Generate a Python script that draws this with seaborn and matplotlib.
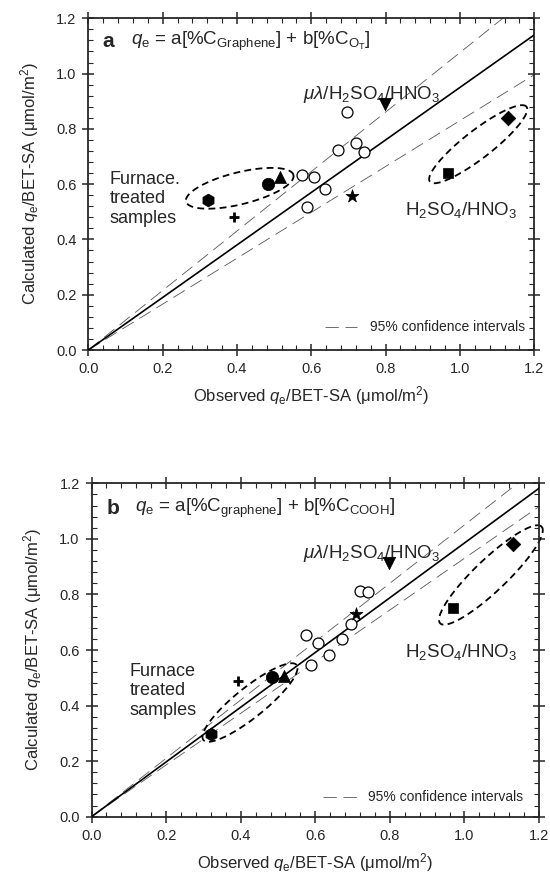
import numpy as np
import pandas as pd
import matplotlib
matplotlib.use("Agg")
import matplotlib.pyplot as plt
from matplotlib.ticker import MultipleLocator, FormatStrFormatter
import seaborn as sns

# ---------------- data ----------------
obs_open = [0.695, 0.673, 0.720, 0.741, 0.574, 0.608, 0.638, 0.588]
calc_a_open = [0.862, 0.724, 0.748, 0.715, 0.633, 0.627, 0.581, 0.516]
calc_b_open = [0.694, 0.640, 0.814, 0.808, 0.654, 0.624, 0.582, 0.546]

special_markers = ["h", "+", "o", "^", "*", "v", "s", "D"]
obs_special = [0.321, 0.393, 0.483, 0.516, 0.709, 0.799, 0.969, 1.130]
calc_a_special = [0.543, 0.480, 0.601, 0.627, 0.557, 0.889, 0.641, 0.838]
calc_b_special = [0.298, 0.490, 0.504, 0.506, 0.730, 0.912, 0.752, 0.982]

fit_slopes = {"a": 0.95, "b": 0.985}
ci_upper = {"a": 1.076, "b": 1.05}
ci_lower = {"a": 0.83, "b": 0.93}

tick_values = [0.0, 0.2, 0.4, 0.6, 0.8, 1.0, 1.2]

# ---------------- style ----------------
sns.set_style("ticks")
plt.rcParams["font.family"] = ["Liberation Sans", "DejaVu Sans"]
plt.rcParams["mathtext.fontset"] = "custom"
plt.rcParams["mathtext.rm"] = "Liberation Sans"
plt.rcParams["mathtext.it"] = "Liberation Sans:italic"
plt.rcParams["mathtext.bf"] = "Liberation Sans:bold"

fig = plt.figure(figsize=(5.5, 8.89), dpi=100)
ax_a = fig.add_axes([88.3 / 550, 1 - 350 / 889, 446 / 550, 331.7 / 889])
ax_b = fig.add_axes([91.5 / 550, 1 - 816.7 / 889, 447.5 / 550, 333.4 / 889])


def dashed_ellipse(ax, p1, p2, half_minor_px, clip=True):
    T = ax.transData
    a = T.transform(p1)
    b = T.transform(p2)
    c = (a + b) / 2
    d = (b - a) / 2
    L = np.hypot(*d)
    u = d / L
    v = np.array([-u[1], u[0]])
    t = np.linspace(0, 2 * np.pi, 300)
    pts = c + np.outer(np.cos(t), d) + np.outer(np.sin(t), v * half_minor_px)
    data = T.inverted().transform(pts)
    ax.plot(data[:, 0], data[:, 1], color="black", lw=1.3,
            linestyle=(0, (3.8, 2.4)), clip_on=clip, zorder=2)


XLABEL = r"Observed $q_\mathrm{e}$/BET-SA (μmol/m$^2$)"
YLABEL = r"Calculated $q_\mathrm{e}$/BET-SA (μmol/m$^2$)"


def setup(ax):
    ax.set_xlim(0, 1.2)
    ax.set_ylim(0, 1.2)
    ax.set_xticks(tick_values)
    ax.set_yticks(tick_values)
    ax.xaxis.set_major_formatter(FormatStrFormatter("%.1f"))
    ax.yaxis.set_major_formatter(FormatStrFormatter("%.1f"))
    ax.xaxis.set_minor_locator(MultipleLocator(0.04))
    ax.yaxis.set_minor_locator(MultipleLocator(0.04))
    ax.tick_params(which="major", direction="inout", length=9, width=1.1,
                   top=True, right=True, labelsize=10.5, pad=4)
    ax.tick_params(which="minor", direction="in", length=3.5, width=0.8,
                   top=True, right=True)
    for s in ax.spines.values():
        s.set_linewidth(1.3)
        s.set_visible(True)


def draw(ax, key, calc_open, calc_special):
    setup(ax)
    xs = np.array([0.0, 1.2])
    line_df = pd.DataFrame({"x": xs, "fit": fit_slopes[key] * xs,
                            "up": ci_upper[key] * xs, "lo": ci_lower[key] * xs})
    sns.lineplot(data=line_df, x="x", y="fit", ax=ax, color="black", lw=1.2,
                 estimator=None, zorder=3)
    for col in ["up", "lo"]:
        sns.lineplot(data=line_df, x="x", y=col, ax=ax, color="#555555", lw=0.6,
                     estimator=None, linestyle=(0, (16, 8)), zorder=2)
    sns.scatterplot(x=obs_open, y=calc_open, ax=ax, marker="o", s=62,
                    facecolor="white", edgecolor="black", linewidth=0.9, zorder=4)
    sizes = {"h": 85, "+": 45, "o": 80, "^": 75, "*": 95, "v": 80, "s": 60, "D": 55}
    for m, xv, yv in zip(special_markers, obs_special, calc_special):
        if m == "+":
            sns.scatterplot(x=[xv], y=[yv], ax=ax, marker=m, s=sizes[m],
                            color="black", linewidth=2.0, zorder=5)
        else:
            sns.scatterplot(x=[xv], y=[yv], ax=ax, marker=m, s=sizes[m],
                            color="black", edgecolor="black", linewidth=0.5, zorder=5)
    ax.set_xlabel(XLABEL, fontsize=12, labelpad=6)
    ax.set_ylabel(YLABEL, fontsize=12, labelpad=11)


draw(ax_a, "a", calc_a_open, calc_a_special)
draw(ax_b, "b", calc_b_open, calc_b_special)

# ----- panel a annotations -----
ax_a.text(0.038, 1.115, "a", fontsize=15, fontweight="bold", va="center")
ax_a.text(0.114, 1.115,
          r"$q_\mathrm{e}$ = a[%C$_\mathrm{Graphene}$] + b[%C$_{\mathrm{O}_\mathrm{T}}$]",
          fontsize=13.5, va="center")
ax_a.text(0.578, 0.926, r"$\mu\lambda$/H$_2$SO$_4$/HNO$_3$", fontsize=13.5, va="center")
ax_a.text(0.057, 0.648, "Furnace.\ntreated\nsamples", fontsize=13, va="top",
          linespacing=1.2)
ax_a.text(0.852, 0.507, "H$_2$SO$_4$/HNO$_3$", fontsize=13.5, va="center")
ax_a.plot([0.637, 0.723], [0.084, 0.084], color="#555555", lw=0.6,
          linestyle=(0, (16, 8)))
ax_a.text(0.758, 0.084, "95% confidence intervals", fontsize=10, va="center")
dashed_ellipse(ax_a, (0.263, 0.537), (0.552, 0.633), 16)
dashed_ellipse(ax_a, (0.919, 0.609), (1.179, 0.880), 14)

# ----- panel b annotations -----
ax_b.text(0.040, 1.108, "b", fontsize=15, fontweight="bold", va="center")
ax_b.text(0.116, 1.108,
          r"$q_\mathrm{e}$ = a[%C$_\mathrm{graphene}$] + b[%C$_\mathrm{COOH}$]",
          fontsize=13.5, va="center")
ax_b.text(0.567, 0.946, r"$\mu\lambda$/H$_2$SO$_4$/HNO$_3$", fontsize=13.5, va="center")
ax_b.text(0.103, 0.554, "Furnace\ntreated\nsamples", fontsize=13, va="top",
          linespacing=1.2)
ax_b.text(0.841, 0.594, "H$_2$SO$_4$/HNO$_3$", fontsize=13.5, va="center")
ax_b.plot([0.621, 0.712], [0.072, 0.072], color="#555555", lw=0.6,
          linestyle=(0, (16, 8)))
ax_b.text(0.741, 0.072, "95% confidence intervals", fontsize=10, va="center")
dashed_ellipse(ax_b, (0.300, 0.276), (0.550, 0.546), 15)
dashed_ellipse(ax_b, (0.935, 0.696), (1.207, 1.044), 16, clip=False)

fig.savefig("out.png", dpi=100)
